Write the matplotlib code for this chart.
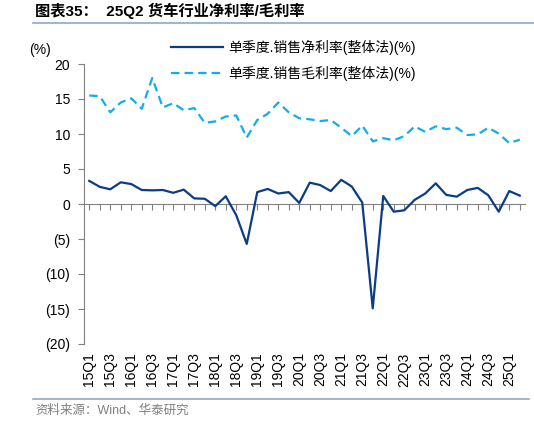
import numpy as np
import matplotlib.pyplot as plt
from matplotlib.ticker import FuncFormatter, MultipleLocator

plt.rcParams['font.family'] = ['Liberation Sans', 'Noto Sans CJK SC', 'DejaVu Sans']

# quarters 15Q1 .. 25Q2
quarters = ['%02dQ%d' % (y, q) for y in range(15, 26) for q in range(1, 5)][:42]

net_margin = [3.3, 2.45, 2.1, 3.1, 2.85, 2.0, 1.95, 2.0, 1.6, 2.05,
              0.8, 0.75, -0.3, 1.1, -1.6, -5.7, 1.7, 2.15, 1.5, 1.7,
              0.15, 3.05, 2.7, 1.85, 3.45, 2.5, 0.2, -14.9, 1.15, -1.1,
              -0.9, 0.6, 1.5, 2.95, 1.3, 1.05, 2.0, 2.3, 1.25, -1.1,
              1.85, 1.2]

gross_margin = [15.5, 15.4, 13.1, 14.5, 15.1, 13.6, 18.0, 13.8, 14.4, 13.4,
                13.7, 11.6, 11.8, 12.5, 12.65, 9.5, 12.0, 12.9, 14.5, 13.1,
                12.25, 12.1, 11.85, 12.0, 10.9, 9.7, 11.2, 8.95, 9.4, 9.1,
                9.7, 11.1, 10.3, 11.1, 10.7, 10.9, 9.85, 9.95, 10.9, 10.05,
                8.7, 9.2]

label_net = '单季度.销售净利率(整体法)(%)'
label_gross = '单季度.销售毛利率(整体法)(%)'

navy = '#0B3D86'
light = '#12ADEE'
grey = '#808080'

fig = plt.figure(figsize=(5.34, 4.22), dpi=100)
ax = fig.add_axes([84/534, 78/422, 441/534, 280/422])

x = np.arange(len(quarters))
ax.plot(x, net_margin, color=navy, lw=1.6, label=label_net)
ax.plot(x, gross_margin, color=light, lw=1.6, dashes=(3.8, 2.3), label=label_gross)

ax.set_xlim(-0.5, 41.5)
ax.set_ylim(-20, 20)
ax.yaxis.set_major_locator(MultipleLocator(5))
ax.yaxis.set_major_formatter(FuncFormatter(
    lambda v, p: '(%d)' % abs(v) if v < 0 else '%d' % v))

for s in ['top', 'right', 'bottom']:
    ax.spines[s].set_visible(False)
ax.spines['left'].set_color(grey)
ax.tick_params(axis='y', colors=grey, labelcolor='black', length=4,
               labelsize=10, pad=6)

# labels at bottom, no tick marks
ax.set_xticks(x[::2])
ax.set_xticklabels(quarters[::2], rotation=90, fontsize=10)
ax.tick_params(axis='x', length=0, pad=6)

# zero axis with quarter ticks pointing down
sec = ax.secondary_xaxis(0.5)
sec.set_alignment('bottom')
sec.set_xticks(x)
sec.set_xticklabels([])
sec.spines['bottom'].set_color(grey)
sec.tick_params(axis='x', colors=grey, length=4, direction='out')

ax.text(-0.1, 1.05, '(%)', transform=ax.transAxes, ha='center', va='center',
        fontsize=10)

leg = ax.legend(loc='upper left', bbox_to_anchor=(0.17, 1.13), frameon=False,
                fontsize=10, handlelength=3.7, labelspacing=0.75,
                handletextpad=0.4)

# title and source
fig.text(35/534, 1 - 11/422, '图表35：  25Q2 货车行业净利率/毛利率',
         fontsize=11, fontweight='bold', va='center', ha='left')
fig.add_artist(plt.Line2D([33/534, 1.0], [1 - 23/422] * 2,
                          color='#8EA9C6', lw=1.2))
fig.add_artist(plt.Line2D([33/534, 529/534], [1 - 399/422] * 2,
                          color='#8EA9C6', lw=1.2))
fig.text(35/534, 1 - 411/422, '资料来源：Wind、华泰研究', fontsize=9,
         color='#808080', va='center', ha='left')

fig.savefig('out.png', dpi=100)
